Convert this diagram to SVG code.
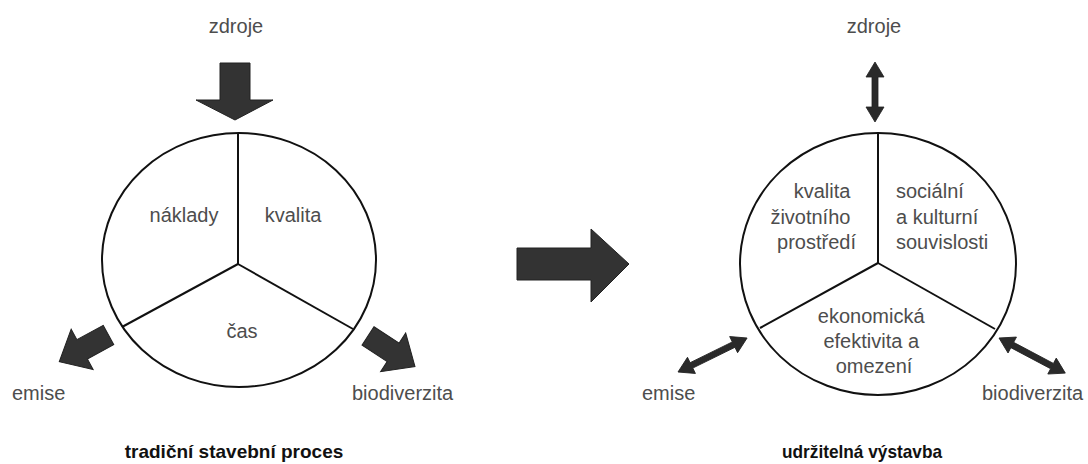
<svg xmlns="http://www.w3.org/2000/svg" width="1088" height="464" viewBox="0 0 1088 464">
  <style>
    .bg { fill: #ffffff; }
    .ring { fill: none; stroke: #111; stroke-width: 2; }
    .spoke { stroke: #111; stroke-width: 2; fill: none; }
    .lbl { font-family: "Liberation Sans", Arial, sans-serif; font-size: 20px; fill: #4d4d4d; }
    .ttl { font-family: "Liberation Sans", Arial, sans-serif; font-size: 19px; font-weight: bold; fill: #111; }
    .fat { fill: #333; stroke: #222; stroke-width: 1; stroke-linejoin: miter; }
    .dbl { fill: #2a2a2a; stroke: #222; stroke-width: 0.8; }
  </style>
  <defs>
    <polygon id="fatArrow" points="0,-11 30,-11 30,-23 56,0 30,23 30,11 0,11"/>
  </defs>
  <rect class="bg" x="0" y="0" width="1088" height="464"/>

  <!-- Left: traditional process -->
  <g id="trad-wheel">
    <ellipse class="ring" cx="239" cy="260" rx="137" ry="127"/>
    <line class="spoke" x1="238" y1="133" x2="238" y2="264"/>
    <line class="spoke" x1="238" y1="264" x2="122" y2="327"/>
    <line class="spoke" x1="238" y1="264" x2="353" y2="329"/>
  </g>
  <g id="trad-naklady"><text class="lbl" x="184" y="222" text-anchor="middle">náklady</text></g>
  <g id="trad-kvalita"><text class="lbl" x="293" y="222" text-anchor="middle">kvalita</text></g>
  <g id="trad-cas"><text class="lbl" x="242" y="338" text-anchor="middle">čas</text></g>
  <g id="trad-zdroje"><text class="lbl" x="236" y="33" text-anchor="middle">zdroje</text></g>
  <g id="trad-emise"><text class="lbl" x="12" y="400">emise</text></g>
  <g id="trad-biodiverzita"><text class="lbl" x="352" y="400">biodiverzita</text></g>
  <g id="trad-title"><text class="ttl" x="234" y="458" text-anchor="middle">tradiční stavební proces</text></g>

  <!-- Right: sustainable construction -->
  <g id="sust-wheel">
    <ellipse class="ring" cx="878" cy="264" rx="138" ry="131"/>
    <line class="spoke" x1="878" y1="133" x2="878" y2="263"/>
    <line class="spoke" x1="878" y1="263" x2="760" y2="328"/>
    <line class="spoke" x1="878" y1="263" x2="995" y2="329"/>
  </g>
  <g id="sust-prostredi">
    <text class="lbl" text-anchor="end">
      <tspan x="856" y="198">kvalita</tspan>
      <tspan x="856" y="223.5">životního</tspan>
      <tspan x="856" y="249">prostředí</tspan>
    </text>
  </g>
  <g id="sust-socialni">
    <text class="lbl">
      <tspan x="896" y="198">sociální</tspan>
      <tspan x="896" y="223.5">a kulturní</tspan>
      <tspan x="896" y="249">souvislosti</tspan>
    </text>
  </g>
  <g id="sust-ekonomicka">
    <text class="lbl" text-anchor="middle">
      <tspan x="874" y="323">ekonomická</tspan>
      <tspan x="874" y="348">efektivita a</tspan>
      <tspan x="874" y="373">omezení</tspan>
    </text>
  </g>
  <g id="sust-zdroje"><text class="lbl" x="874" y="33" text-anchor="middle">zdroje</text></g>
  <g id="sust-emise"><text class="lbl" x="642" y="400">emise</text></g>
  <g id="sust-biodiverzita"><text class="lbl" x="982" y="400">biodiverzita</text></g>
  <g id="sust-title"><text class="ttl" x="862" y="458" text-anchor="middle" textLength="160" lengthAdjust="spacingAndGlyphs">udržitelná výstavba</text></g>

  <!-- Connectors -->
  <g id="connectors">
    <polygon class="fat" points="220,63 250,63 250,100 273,100 235,120 196,100 220,100"/>
    <use href="#fatArrow" class="fat" transform="translate(108.5,335) rotate(151.5)"/>
    <use href="#fatArrow" class="fat" transform="translate(368,336) rotate(33)"/>
    <polygon class="fat" points="517,248 591,248 591,229 629,264 591,302 591,280 517,280"/>
    <polygon class="dbl" transform="translate(875,62) rotate(90)" points="0,0 15,-9 15,-3 45,-3 45,-9 60,0 45,9 45,3 15,3 15,9"/>
    <polygon class="dbl" transform="translate(678,372) rotate(-26.2)" points="0,0 15,-9 15,-3 62,-3 62,-9 77,0 62,9 62,3 15,3 15,9"/>
    <polygon class="dbl" transform="translate(999,338) rotate(27.9)" points="0,0 15,-9 15,-3 60,-3 60,-9 75,0 60,9 60,3 15,3 15,9"/>
  </g>
</svg>
